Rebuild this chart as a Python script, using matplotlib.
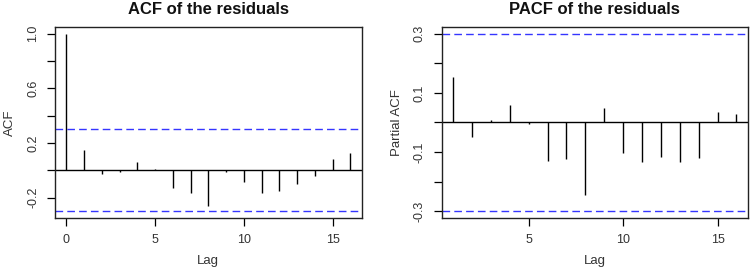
import matplotlib
matplotlib.use("Agg")
import matplotlib.pyplot as plt
import numpy as np

plt.rcParams["font.family"] = ["Liberation Sans", "DejaVu Sans"]

# values
acf_lags = list(range(0, 17))
acf_vals = [1.0, 0.147, -0.030, -0.010, 0.060, 0.012, -0.127, -0.164, -0.262,
            -0.012, -0.083, -0.164, -0.149, -0.103, -0.039, 0.083, 0.130]
pacf_lags = list(range(1, 17))
pacf_vals = [0.153, -0.050, 0.008, 0.058, -0.006, -0.129, -0.124, -0.245,
             0.048, -0.104, -0.133, -0.116, -0.133, -0.121, 0.036, 0.028]
conf_bound = 0.30

acf_yticks = [-0.2, 0.0, 0.2, 0.4, 0.6, 0.8, 1.0]
acf_ylabels = ["-0.2", "", "0.2", "", "0.6", "", "1.0"]
pacf_yticks = [-0.3, -0.2, -0.1, 0.0, 0.1, 0.2, 0.3]
pacf_ylabels = ["-0.3", "", "-0.1", "", "0.1", "", "0.3"]

TXT = "#333333"


def r_range(lo, hi):
    ext = 0.04 * (hi - lo)
    return lo - ext, hi + ext


def draw_panel(ax, lags, vals, title, ylabel, yticks, ylabels, xticks):
    ax.vlines(lags, 0, vals, color="black", linewidth=1.0)
    ax.axhline(0, color="black", linewidth=1.0)
    for s in (conf_bound, -conf_bound):
        ax.axhline(s, color="#3535ff", linewidth=1.0, linestyle=(0, (5.5, 3)))
    ax.set_xlim(*r_range(min(lags), max(lags)))
    lo = min(min(vals), -conf_bound)
    hi = max(max(vals), conf_bound)
    ax.set_ylim(*r_range(lo, hi))
    ax.set_xticks(xticks)
    ax.set_xticklabels([str(t) for t in xticks])
    ax.set_yticks(yticks)
    ax.set_yticklabels(ylabels, rotation=90, va="center")
    ax.tick_params(direction="out", length=5.5, width=0.9, labelsize=9,
                   labelcolor=TXT, pad=6)
    for sp in ax.spines.values():
        sp.set_linewidth(1.0)
        sp.set_color("#222222")
    ax.set_title(title, fontsize=12, fontweight="bold", pad=9, color="#111111")
    ax.set_xlabel("Lag", fontsize=9.5, color=TXT, labelpad=6)
    ax.set_ylabel(ylabel, fontsize=9.5, color=TXT, labelpad=8)


fig = plt.figure(figsize=(7.5, 2.73), dpi=100)
ax1 = fig.add_axes([0.0733, 0.2003, 0.409, 0.702])
ax2 = fig.add_axes([0.589, 0.2003, 0.408, 0.702])

draw_panel(ax1, acf_lags, acf_vals, "ACF of the residuals", "ACF",
           acf_yticks, acf_ylabels, [0, 5, 10, 15])
draw_panel(ax2, pacf_lags, pacf_vals, "PACF of the residuals", "Partial ACF",
           pacf_yticks, pacf_ylabels, [5, 10, 15])

fig.savefig("out.png", dpi=100)
